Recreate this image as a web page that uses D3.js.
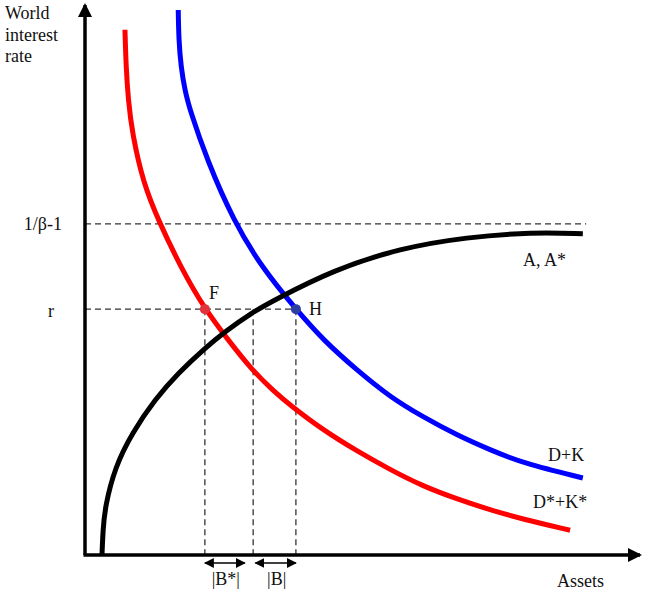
<!DOCTYPE html>
<html>
<head>
<meta charset="utf-8">
<script src="https://cdn.jsdelivr.net/npm/d3@7"></script>
<style>
  body { margin: 0; background: #fff; }
  text { font-family: 'Liberation Serif', 'Times New Roman', serif; fill: #111; }
</style>
</head>
<body>
<svg id="chart"></svg>
<script>
// chart size
const config = { width: 646, height: 594 };

// curves (assets on x, interest rate on y, both 0..100)
const redX = [7.2, 7.4, 7.8, 8.5, 10.5, 13.2, 17.3, 21.6, 25.8, 30.1, 34.2, 36.9, 42.9, 49.0, 55.0, 60.9, 67.0, 73.0, 78.9, 87.4];
const redY = [95.5, 88.7, 82.7, 76.7, 67.6, 60.9, 52.2, 44.7, 39.1, 33.6, 29.6, 27.3, 22.7, 18.9, 15.5, 12.5, 10.2, 8.2, 6.5, 4.5];
const blueX = [16.8, 16.9, 17.3, 18.0, 18.9, 22.0, 26.7, 31.9, 38.0, 42.9, 49.0, 55.0, 60.9, 67.0, 73.0, 78.9, 89.7];
const blueY = [99.1, 93.6, 88.7, 84.5, 80.9, 71.8, 60.9, 52.2, 44.7, 39.1, 33.6, 28.7, 25.1, 21.8, 19.1, 16.7, 14.0];
const blackX = [3.06, 3.24, 3.6, 5.4, 8.5, 12.6, 16.8, 21.6, 25.2, 30.1, 34.2, 44.7, 56.8, 68.8, 80.7, 89.7];
const blackY = [0, 4.5, 8.7, 16.0, 22.2, 28.3, 33.1, 37.6, 40.6, 44.1, 46.4, 51.8, 55.8, 57.8, 58.7, 58.4];

// levels and marked points
const rateLevels = [44.7, 60.2];
const rateLabels = ['r', '1/\u03b2-1'];
const topLineEnd = 90.3;
const pointX = [21.6, 38.0];        // F, H
const pointNames = ['F', 'H'];
const midX = 30.3;                  // A curve at r
const spans = [[21.6, 28.8], [30.7, 38.0]];
const spanNames = ['|B*|', '|B|'];
const curveNames = ['D*+K*', 'D+K', 'A, A*'];

const svg = d3.select('#chart')
  .attr('width', config.width)
  .attr('height', config.height);

const x = d3.scaleLinear().domain([0, 100]).range([85, 640]);
const y = d3.scaleLinear().domain([0, 100]).range([555, 5]);

const defs = svg.append('defs');
defs.append('marker')
  .attr('id', 'axisHead')
  .attr('markerUnits', 'userSpaceOnUse')
  .attr('viewBox', '0 0 14 14')
  .attr('refX', 12).attr('refY', 7)
  .attr('markerWidth', 14).attr('markerHeight', 14)
  .attr('orient', 'auto')
  .append('path').attr('d', 'M0,0 L14,7 L0,14 Z').attr('fill', '#000');
defs.append('marker')
  .attr('id', 'smallHead')
  .attr('markerUnits', 'userSpaceOnUse')
  .attr('viewBox', '0 0 10 10')
  .attr('refX', 9).attr('refY', 5)
  .attr('markerWidth', 10).attr('markerHeight', 10)
  .attr('orient', 'auto-start-reverse')
  .append('path').attr('d', 'M0,0 L10,5 L0,10 Z').attr('fill', '#000');

// dashed guides
const dash = { stroke: '#333', width: 1.3, array: '6,4' };
svg.append('line')
  .attr('x1', x(0)).attr('x2', x(topLineEnd))
  .attr('y1', y(rateLevels[1])).attr('y2', y(rateLevels[1]))
  .attr('stroke', dash.stroke).attr('stroke-width', dash.width)
  .attr('stroke-dasharray', dash.array);
svg.append('line')
  .attr('x1', x(0)).attr('x2', x(pointX[1]))
  .attr('y1', y(rateLevels[0])).attr('y2', y(rateLevels[0]))
  .attr('stroke', dash.stroke).attr('stroke-width', dash.width)
  .attr('stroke-dasharray', dash.array);
svg.selectAll('.vdash')
  .data([pointX[0], midX, pointX[1]])
  .enter()
  .append('line')
  .attr('class', 'vdash')
  .attr('x1', d => x(d)).attr('x2', d => x(d))
  .attr('y1', y(rateLevels[0])).attr('y2', y(0))
  .attr('stroke', dash.stroke).attr('stroke-width', dash.width)
  .attr('stroke-dasharray', dash.array);

// curves, smoothed through the read points
const line = d3.line()
  .x(d => x(d[0]))
  .y(d => y(d[1]))
  .curve(d3.curveBasis);
const curves = [
  { xs: redX, ys: redY, color: '#ff0000' },
  { xs: blueX, ys: blueY, color: '#0000ff' },
  { xs: blackX, ys: blackY, color: '#000000' },
];
curves.forEach(c => {
  svg.append('path')
    .datum(c.xs.map((v, i) => [v, c.ys[i]]))
    .attr('d', line)
    .attr('fill', 'none')
    .attr('stroke', c.color)
    .attr('stroke-width', 5);
});

// axes
svg.append('line')
  .attr('x1', x(0)).attr('y1', y(0))
  .attr('x2', x(0)).attr('y2', y(100))
  .attr('stroke', '#000').attr('stroke-width', 3.5)
  .attr('marker-end', 'url(#axisHead)');
svg.append('line')
  .attr('x1', x(0) - 1.5).attr('y1', y(0))
  .attr('x2', x(100)).attr('y2', y(0))
  .attr('stroke', '#000').attr('stroke-width', 3.5)
  .attr('marker-end', 'url(#axisHead)');

// F and H points
svg.selectAll('.pt')
  .data(pointX)
  .enter()
  .append('circle')
  .attr('class', 'pt')
  .attr('cx', d => x(d))
  .attr('cy', y(rateLevels[0]))
  .attr('r', 5)
  .attr('fill', (d, i) => (i === 0 ? '#e2333d' : '#2e3fa3'));

// double arrows under the axis
svg.selectAll('.span')
  .data(spans)
  .enter()
  .append('line')
  .attr('class', 'span')
  .attr('x1', d => x(d[0])).attr('x2', d => x(d[1]))
  .attr('y1', 563).attr('y2', 563)
  .attr('stroke', '#000').attr('stroke-width', 1.5)
  .attr('marker-start', 'url(#smallHead)')
  .attr('marker-end', 'url(#smallHead)');

// text
const fs = '18px';
const ttl = svg.append('text').attr('x', 5).attr('y', 19).style('font-size', fs);
['World', 'interest', 'rate'].forEach((t, i) => {
  ttl.append('tspan').attr('x', 5).attr('dy', i === 0 ? 0 : 21.5).text(t);
});

svg.append('text')
  .attr('x', 62).attr('y', y(rateLevels[1]) + 6)
  .attr('text-anchor', 'end').style('font-size', fs)
  .text(rateLabels[1]);
svg.append('text')
  .attr('x', 54).attr('y', y(rateLevels[0]) + 8)
  .attr('text-anchor', 'end').style('font-size', fs)
  .text(rateLabels[0]);

svg.append('text')
  .attr('x', x(pointX[0]) + 4).attr('y', y(rateLevels[0]) - 10)
  .style('font-size', fs).text(pointNames[0]);
svg.append('text')
  .attr('x', x(pointX[1]) + 13).attr('y', y(rateLevels[0]) + 6)
  .style('font-size', fs).text(pointNames[1]);

svg.selectAll('.spanlbl')
  .data(spans)
  .enter()
  .append('text')
  .attr('class', 'spanlbl')
  .attr('x', d => (x(d[0]) + x(d[1])) / 2 + 1)
  .attr('y', 585)
  .attr('text-anchor', 'middle')
  .style('font-size', fs)
  .text((d, i) => spanNames[i]);

svg.append('text').attr('x', 533).attr('y', 508).style('font-size', fs).text(curveNames[0]);
svg.append('text').attr('x', 548).attr('y', 461).style('font-size', fs).text(curveNames[1]);
svg.append('text').attr('x', 523).attr('y', 266).style('font-size', fs).text(curveNames[2]);
svg.append('text').attr('x', 557).attr('y', 587).style('font-size', fs).text('Assets');
</script>
</body>
</html>
